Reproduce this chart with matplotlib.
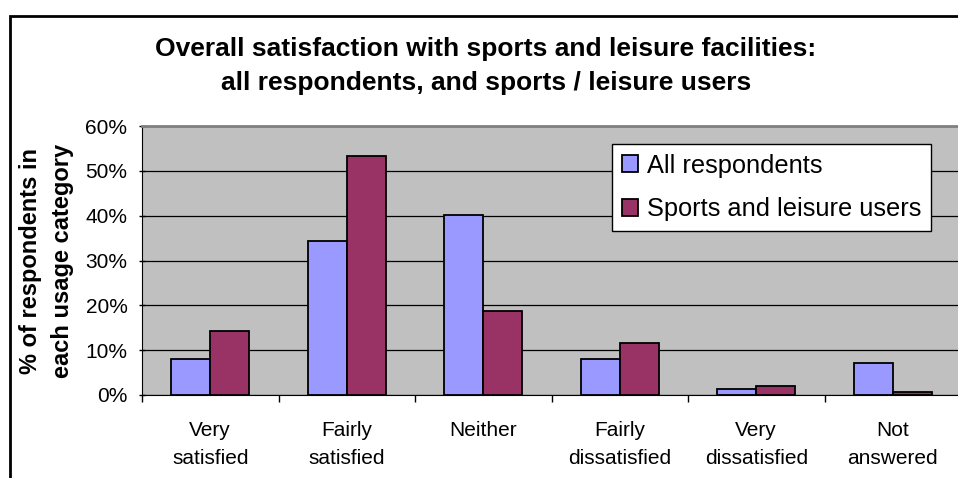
import numpy as np
import matplotlib
matplotlib.use("Agg")
import matplotlib.pyplot as plt
from matplotlib.patches import Rectangle

plt.rcParams['font.family'] = ['Liberation Sans', 'DejaVu Sans']

categories = ["Very\nsatisfied", "Fairly\nsatisfied", "Neither", "Fairly\ndissatisfied",
              "Very\ndissatisfied", "Not\nanswered"]
all_resp = [8.0, 34.4, 40.2, 8.0, 1.3, 7.2]
sports_users = [14.3, 53.3, 18.8, 11.7, 1.9, 0.6]
yticks = [0, 10, 20, 30, 40, 50, 60]

fig = plt.figure(figsize=(9.58, 4.78), dpi=100)
W, H = 958, 478
ax = fig.add_axes([142 / W, (H - 395) / H, (961 - 142) / W, (395 - 126) / H])
ax.set_facecolor('#C0C0C0')

x = np.arange(len(categories))
bw = 0.286
ax.bar(x - bw / 2, all_resp, bw, color='#9999FF', edgecolor='black', linewidth=1.3,
       label='All respondents', zorder=3)
ax.bar(x + bw / 2, sports_users, bw, color='#993366', edgecolor='black', linewidth=1.3,
       label='Sports and leisure users', zorder=3)

ax.set_xlim(-0.5, len(categories) - 0.5)
ax.set_ylim(0, 60)
ax.set_yticks(yticks)
ax.set_yticklabels([f"{v}%" for v in yticks], fontsize=15)
ax.yaxis.grid(True, color='black', linewidth=0.9, zorder=0)
ax.set_axisbelow(True)

ax.set_xticks(x)
ax.set_xticklabels(categories, fontsize=15, linespacing=1.55)
ax.set_xticks(np.arange(-0.5, len(categories), 1), minor=True)
ax.tick_params(axis='x', which='major', length=0, pad=19)
ax.tick_params(axis='x', which='minor', length=5, width=1, direction='out')
ax.tick_params(axis='y', length=5, width=1, direction='inout', pad=8)

for s in ['top', 'right']:
    ax.spines[s].set_visible(False)
ax.spines['left'].set_color('black')
ax.spines['bottom'].set_color('black')
ax.axhline(60, color='#808080', linewidth=2, zorder=4, clip_on=False)

ax.set_ylabel("% of respondents in\neach usage category", fontsize=17, fontweight='bold',
              linespacing=1.5, labelpad=8)

fig.text(486 / W, 1 - 66 / H, "Overall satisfaction with sports and leisure facilities:\n"
         "all respondents, and sports / leisure users", ha='center', va='center',
         fontsize=19, fontweight='bold', linespacing=1.5)

leg = ax.legend(loc='upper left', bbox_to_anchor=((612 - 142) / (961 - 142), (395 - 144) / (395 - 126)),
                fontsize=18.3, frameon=True, fancybox=False, edgecolor='black', framealpha=1,
                handlelength=0.65, handleheight=0.65, handletextpad=0.35, borderpad=0.38,
                labelspacing=0.76, borderaxespad=0)
leg.get_frame().set_linewidth(1)

fig.patches.append(Rectangle((10 / W, -0.1), 1.1, 1 - 16 / H + 0.1, transform=fig.transFigure,
                             fill=False, edgecolor='black', linewidth=2))

fig.savefig("out.png", dpi=100)
